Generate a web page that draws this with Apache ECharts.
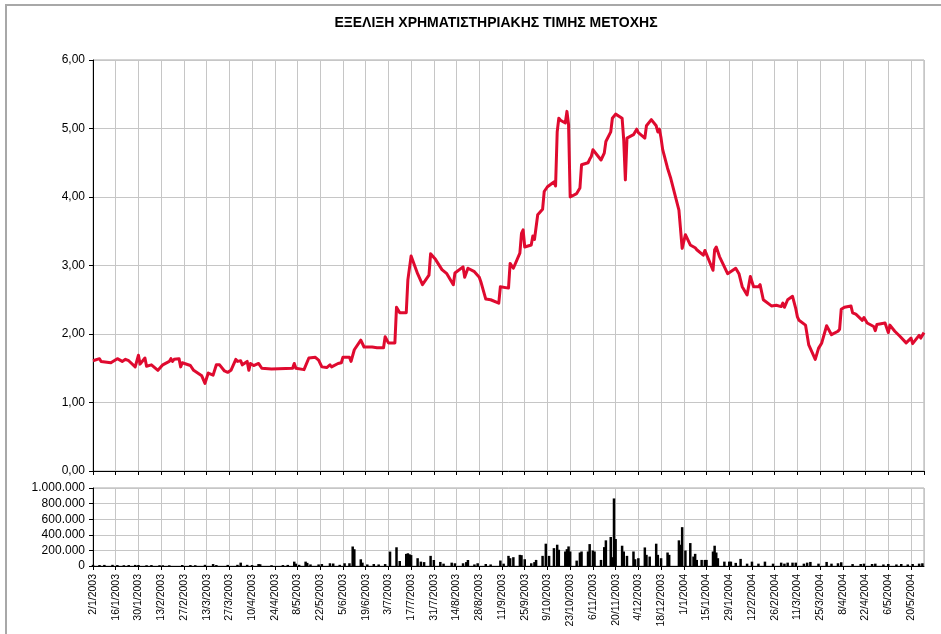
<!DOCTYPE html>
<html>
<head>
<meta charset="utf-8">
<script src="https://cdn.jsdelivr.net/npm/echarts@6/dist/echarts.min.js"></script>
<style>
html,body{margin:0;padding:0;background:#fff;}
#c{width:941px;height:634px;}
</style>
</head>
<body>
<div id="c"></div>
<script>
const titleText = 'ΕΞΕΛΙΞΗ ΧΡΗΜΑΤΙΣΤΗΡΙΑΚΗΣ ΤΙΜΗΣ ΜΕΤΟΧΗΣ';
const axisStart = '2003-01-02';
const axisEnd = '2004-05-28';

const priceDates = [
'2003-01-02','2003-01-06','2003-01-07','2003-01-13','2003-01-17','2003-01-20','2003-01-22','2003-01-24','2003-01-28','2003-01-30',
'2003-01-31','2003-02-03','2003-02-04','2003-02-07','2003-02-11','2003-02-14','2003-02-18','2003-02-19','2003-02-20','2003-02-21',
'2003-02-24','2003-02-25','2003-02-26','2003-03-03','2003-03-05','2003-03-10','2003-03-12','2003-03-14','2003-03-17','2003-03-19',
'2003-03-21','2003-03-24','2003-03-26','2003-03-28','2003-03-31','2003-04-01','2003-04-03','2003-04-04','2003-04-07','2003-04-08',
'2003-04-09','2003-04-11','2003-04-14','2003-04-16','2003-04-22','2003-05-05','2003-05-06','2003-05-07','2003-05-12','2003-05-15',
'2003-05-19','2003-05-21','2003-05-23','2003-05-26','2003-05-28','2003-05-29','2003-06-02','2003-06-04','2003-06-05','2003-06-09',
'2003-06-10','2003-06-12','2003-06-16','2003-06-18','2003-06-19','2003-06-23','2003-06-26','2003-06-30','2003-07-01','2003-07-03',
'2003-07-07','2003-07-08','2003-07-10','2003-07-14','2003-07-15','2003-07-17','2003-07-18','2003-07-21','2003-07-24','2003-07-28',
'2003-07-29','2003-08-01','2003-08-05','2003-08-08','2003-08-12','2003-08-13','2003-08-18','2003-08-19','2003-08-21','2003-08-25',
'2003-08-28','2003-08-29','2003-09-01','2003-09-04','2003-09-09','2003-09-10','2003-09-15','2003-09-16','2003-09-18','2003-09-22',
'2003-09-23','2003-09-24','2003-09-25','2003-09-29','2003-09-30','2003-10-01','2003-10-03','2003-10-06','2003-10-07','2003-10-09',
'2003-10-10','2003-10-13','2003-10-14','2003-10-15','2003-10-16','2003-10-17','2003-10-20','2003-10-21','2003-10-22','2003-10-23',
'2003-10-24','2003-10-27','2003-10-29','2003-10-30','2003-11-03','2003-11-04','2003-11-05','2003-11-06','2003-11-07','2003-11-11',
'2003-11-13','2003-11-14','2003-11-17','2003-11-18','2003-11-20','2003-11-24','2003-11-25','2003-11-26','2003-11-27','2003-12-01',
'2003-12-03','2003-12-04','2003-12-05','2003-12-08','2003-12-09','2003-12-10','2003-12-12','2003-12-15','2003-12-16','2003-12-17',
'2003-12-18','2003-12-19','2003-12-22','2003-12-24','2003-12-29','2003-12-31','2004-01-02','2004-01-05','2004-01-08','2004-01-09',
'2004-01-13','2004-01-14','2004-01-19','2004-01-20','2004-01-21','2004-01-23','2004-01-28','2004-02-02','2004-02-04','2004-02-06',
'2004-02-09','2004-02-11','2004-02-13','2004-02-16','2004-02-17','2004-02-19','2004-02-24','2004-02-27','2004-03-01','2004-03-02',
'2004-03-03','2004-03-05','2004-03-08','2004-03-10','2004-03-11','2004-03-12','2004-03-16','2004-03-18','2004-03-22','2004-03-24',
'2004-03-26','2004-03-29','2004-04-01','2004-04-05','2004-04-06','2004-04-07','2004-04-09','2004-04-13','2004-04-14','2004-04-16',
'2004-04-20','2004-04-21','2004-04-23','2004-04-27','2004-04-28','2004-04-29','2004-05-04','2004-05-06','2004-05-07','2004-05-10',
'2004-05-13','2004-05-17','2004-05-18','2004-05-20','2004-05-21','2004-05-24','2004-05-25','2004-05-26','2004-05-28'
];
const priceValues = [
1.61,1.64,1.60,1.58,1.64,1.60,1.63,1.61,1.52,1.69,
1.56,1.65,1.53,1.55,1.47,1.55,1.60,1.64,1.60,1.63,
1.64,1.52,1.58,1.54,1.47,1.39,1.28,1.43,1.40,1.55,
1.55,1.46,1.44,1.47,1.63,1.60,1.61,1.55,1.60,1.47,
1.57,1.54,1.57,1.50,1.49,1.50,1.57,1.50,1.48,1.65,
1.66,1.62,1.52,1.51,1.55,1.52,1.57,1.58,1.66,1.66,
1.60,1.77,1.91,1.81,1.83,1.81,1.80,1.80,1.96,1.87,
1.87,2.39,2.31,2.31,2.79,3.14,3.13,2.88,2.72,2.86,
3.17,3.09,2.94,2.88,2.72,2.89,2.98,2.83,2.96,2.91,
2.83,2.76,2.51,2.50,2.45,2.69,2.67,3.03,2.96,3.18,
3.47,3.52,3.27,3.30,3.43,3.38,3.74,3.82,4.08,4.15,
4.17,4.22,4.16,4.95,5.15,5.12,5.08,5.25,5.06,4.00,
3.98,4.05,4.13,4.47,4.50,4.55,4.59,4.69,4.66,4.54,
4.64,4.81,4.95,5.15,5.21,5.15,4.83,4.25,4.86,4.91,
4.99,4.94,4.95,4.86,5.04,5.02,5.13,5.04,4.95,4.99,
4.86,4.69,4.42,4.27,3.81,3.25,3.45,3.30,3.26,3.23,
3.15,3.22,2.93,3.23,3.27,3.13,2.88,2.96,2.88,2.69,
2.57,2.84,2.69,2.69,2.72,2.50,2.41,2.42,2.40,2.45,
2.39,2.50,2.55,2.37,2.25,2.20,2.13,1.84,1.63,1.79,
1.87,2.12,1.99,2.04,2.07,2.36,2.39,2.41,2.31,2.29,
2.20,2.24,2.16,2.11,2.05,2.14,2.16,2.02,2.13,2.04,
1.97,1.87,1.86,1.94,1.86,1.95,1.98,1.94,2.02
];

const volumeDates = [
'2003-01-02','2003-01-06','2003-01-09','2003-01-14','2003-01-17','2003-01-21','2003-01-24','2003-01-28','2003-01-30','2003-02-04',
'2003-02-07','2003-02-12','2003-02-14','2003-02-18','2003-02-26','2003-03-03','2003-03-06','2003-03-12','2003-03-17','2003-03-19',
'2003-03-26','2003-04-01','2003-04-03','2003-04-07','2003-04-10','2003-04-14','2003-04-15','2003-04-22','2003-04-29','2003-05-02',
'2003-05-06','2003-05-07','2003-05-09','2003-05-13','2003-05-14','2003-05-16','2003-05-21','2003-05-23','2003-05-28','2003-05-30',
'2003-06-03','2003-06-06','2003-06-09','2003-06-11','2003-06-12','2003-06-16','2003-06-17','2003-06-20','2003-06-24','2003-06-27',
'2003-07-01','2003-07-04','2003-07-08','2003-07-10','2003-07-14','2003-07-15','2003-07-16','2003-07-17','2003-07-21','2003-07-23',
'2003-07-25','2003-07-29','2003-07-31','2003-08-04','2003-08-06','2003-08-11','2003-08-13','2003-08-18','2003-08-20','2003-08-21',
'2003-08-25','2003-08-27','2003-09-01','2003-09-04','2003-09-10','2003-09-12','2003-09-15','2003-09-16','2003-09-18','2003-09-22',
'2003-09-23','2003-09-25','2003-09-29','2003-10-01','2003-10-02','2003-10-06','2003-10-08','2003-10-10','2003-10-13','2003-10-15',
'2003-10-16','2003-10-20','2003-10-21','2003-10-22','2003-10-23','2003-10-27','2003-10-29','2003-10-30','2003-11-03','2003-11-04',
'2003-11-06','2003-11-07','2003-11-11','2003-11-13','2003-11-14','2003-11-17','2003-11-18','2003-11-19','2003-11-20','2003-11-24',
'2003-11-25','2003-11-27','2003-12-01','2003-12-02','2003-12-04','2003-12-08','2003-12-09','2003-12-11','2003-12-15','2003-12-16',
'2003-12-18','2003-12-22','2003-12-23','2003-12-29','2003-12-30','2003-12-31','2004-01-02','2004-01-05','2004-01-07','2004-01-08',
'2004-01-09','2004-01-12','2004-01-14','2004-01-15','2004-01-19','2004-01-20','2004-01-21','2004-01-22','2004-01-26','2004-01-29',
'2004-01-30','2004-02-02','2004-02-05','2004-02-09','2004-02-12','2004-02-16','2004-02-20','2004-02-25','2004-03-01','2004-03-03',
'2004-03-05','2004-03-08','2004-03-10','2004-03-15','2004-03-17','2004-03-19','2004-03-24','2004-03-29','2004-04-01','2004-04-05',
'2004-04-07','2004-04-14','2004-04-19','2004-04-21','2004-04-26','2004-04-28','2004-05-03','2004-05-06','2004-05-11','2004-05-14',
'2004-05-18','2004-05-21','2004-05-25','2004-05-27'
];
const volumeValues = [
15000,12000,14000,15000,12000,10000,12000,14000,13000,10000,
12000,10000,9000,9000,13000,12000,10000,15000,25000,12000,
14000,15000,43000,15000,12000,25000,22000,10000,12000,14000,
56000,30000,15000,56000,40000,20000,20000,25000,35000,32000,
15000,35000,35000,250000,215000,86000,43000,20000,25000,20000,
25000,185000,240000,64000,155000,163000,150000,140000,100000,56000,
50000,130000,77000,52000,30000,43000,35000,35000,50000,77000,
20000,35000,26000,20000,70000,30000,130000,100000,113000,143000,
139000,87000,35000,50000,78000,130000,286000,130000,229000,273000,
208000,186000,216000,251000,186000,69000,173000,186000,186000,281000,
199000,186000,78000,242000,329000,372000,113000,866000,346000,260000,
186000,130000,186000,87000,100000,238000,143000,121000,286000,143000,
100000,173000,143000,329000,273000,498000,199000,294000,121000,156000,
78000,78000,78000,78000,186000,260000,173000,100000,56000,56000,
56000,40000,91000,30000,56000,30000,56000,30000,43000,30000,
43000,43000,43000,30000,43000,52000,30000,52000,30000,35000,
48000,25000,26000,30000,26000,30000,20000,26000,20000,26000,
20000,26000,30000,35000
];

const DAY = 86400000;
function toUTC(s){ const p = s.split('-').map(Number); return Date.UTC(p[0], p[1]-1, p[2]); }
const t0 = toUTC(axisStart);
function dayOf(s){ return Math.round((toUTC(s) - t0) / DAY); }
const xMax = dayOf(axisEnd);

const priceData = priceDates.map((d,i)=>[dayOf(d), priceValues[i]]);
const volumeData = volumeDates.map((d,i)=>[dayOf(d), volumeValues[i]]);

function dateLabel(v){
  const dt = new Date(t0 + v*DAY);
  return dt.getUTCDate() + '/' + (dt.getUTCMonth()+1) + '/' + dt.getUTCFullYear();
}
function priceLabel(v){ return v.toFixed(2).replace('.', ','); }
function volLabel(v){ return String(Math.round(v)).replace(/\B(?=(\d{3})+(?!\d))/g, '.'); }

const FONT = '"Liberation Sans", Arial, sans-serif';
const gridLine = { show: true, lineStyle: { color: '#c6c6c6', width: 1 } };
const blackLine = { show: true, lineStyle: { color: '#000', width: 1 } };

const chart = echarts.init(document.getElementById('c'), null, { renderer: 'canvas' });
chart.setOption({
  animation: false,
  backgroundColor: '#fff',
  textStyle: { fontFamily: FONT },
  title: {
    text: titleText, left: 491, top: 11, textAlign: 'center',
    textStyle: { fontFamily: FONT, fontSize: 14, fontWeight: 'bold', color: '#000' }
  },
  graphic: [{
    type: 'rect', silent: true,
    shape: { x: 6, y: 5, width: 1000, height: 1000 },
    style: { fill: 'none', stroke: '#a8a8a8', lineWidth: 2 }
  }],
  grid: [
    { left: 93, top: 60, width: 831, height: 411, show: true, borderColor: '#a8a8a8', borderWidth: 1, backgroundColor: 'transparent', containLabel: false },
    { left: 93, top: 488, width: 831, height: 78, show: true, borderColor: '#a8a8a8', borderWidth: 1, backgroundColor: 'transparent', containLabel: false }
  ],
  xAxis: [
    { gridIndex: 0, type: 'value', min: 0, max: xMax, interval: 14,
      axisLine: blackLine, axisTick: { show: true, length: 4, lineStyle: { color: '#000' } },
      axisLabel: { show: false }, splitLine: gridLine },
    { gridIndex: 1, type: 'value', min: 0, max: xMax, interval: 14,
      axisLine: blackLine, axisTick: { show: true, length: 4, lineStyle: { color: '#000' } },
      axisLabel: { show: true, rotate: 90, margin: 8, fontSize: 10.5, color: '#000', fontFamily: FONT,
        showMaxLabel: false, formatter: dateLabel },
      splitLine: gridLine }
  ],
  yAxis: [
    { gridIndex: 0, type: 'value', min: 0, max: 6, interval: 1,
      axisLine: blackLine, axisTick: { show: true, length: 4, lineStyle: { color: '#000' } },
      axisLabel: { margin: 8, fontSize: 12, color: '#000', fontFamily: FONT, formatter: priceLabel },
      splitLine: gridLine },
    { gridIndex: 1, type: 'value', min: 0, max: 1000000, interval: 200000,
      axisLine: blackLine, axisTick: { show: true, length: 4, lineStyle: { color: '#000' } },
      axisLabel: { margin: 8, fontSize: 12, color: '#000', fontFamily: FONT, formatter: volLabel },
      splitLine: gridLine }
  ],
  series: [
    { type: 'line', xAxisIndex: 0, yAxisIndex: 0, data: priceData, showSymbol: false, symbol: 'none',
      lineStyle: { color: '#DF0A2F', width: 3, join: 'round' }, z: 5 },
    { type: 'bar', xAxisIndex: 1, yAxisIndex: 1, data: volumeData, barWidth: 2.5,
      itemStyle: { color: '#000' }, z: 5 }
  ]
});
</script>
</body>
</html>
